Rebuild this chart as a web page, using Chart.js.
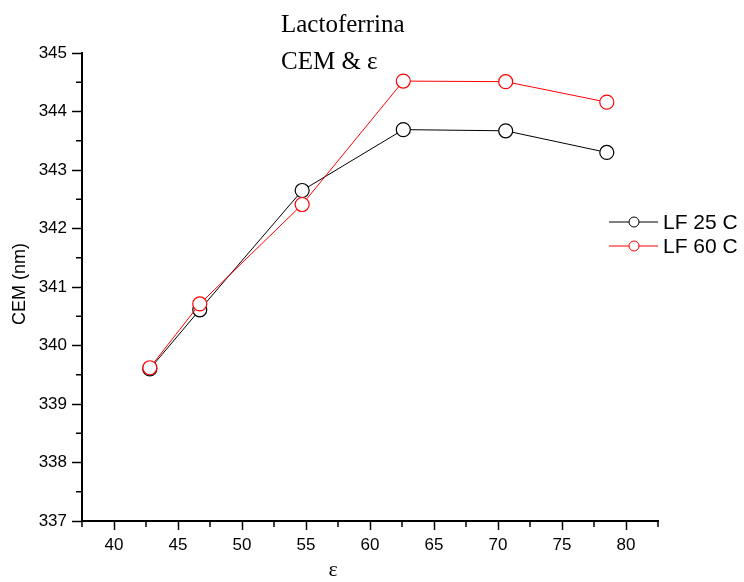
<!DOCTYPE html>
<html>
<head>
<meta charset="utf-8">
<script src="https://cdn.jsdelivr.net/npm/chart.js@4.4.1/dist/chart.umd.min.js"></script>
<style>
  html, body { margin: 0; padding: 0; background: #fff; }
  canvas { display: block; }
</style>
</head>
<body>
<canvas id="cemChart" width="744" height="582"></canvas>
<script>
// constante dielectrica del medio
const epsilon = [42.8, 46.7, 54.7, 62.6, 70.6, 78.5];
// CEM (nm) a 25 C y 60 C
const lf25 = [339.60, 340.61, 342.65, 343.69, 343.67, 343.30];
const lf60 = [339.62, 340.71, 342.41, 344.52, 344.51, 344.16];

const seriesNames = ["LF 25 C", "LF 60 C"];
const xTicks = [40, 45, 50, 55, 60, 65, 70, 75, 80];
const yTicks = [337, 338, 339, 340, 341, 342, 343, 344, 345];
const titleLines = ["Lactoferrina", "CEM & \u03b5"];

const toPoints = (ys) => epsilon.map((x, i) => ({ x: x, y: ys[i] }));

// textos, ticks menores y leyenda
const extras = {
  id: "extras",
  afterDraw(chart) {
    const ctx = chart.ctx;
    const area = chart.chartArea;
    const xs = chart.scales.x;
    const ys = chart.scales.y;
    ctx.save();
    ctx.strokeStyle = "#000";
    ctx.lineWidth = 1.5;

    // ticks menores
    for (let v = xs.min; v <= xs.max + 1e-9; v += 2.5) {
      if (Math.abs(v % 5) < 1e-9) continue;
      const px = xs.getPixelForValue(v);
      ctx.beginPath();
      ctx.moveTo(px, area.bottom);
      ctx.lineTo(px, area.bottom + 6);
      ctx.stroke();
    }
    for (let v = ys.min + 0.5; v < ys.max; v += 1) {
      const py = ys.getPixelForValue(v);
      ctx.beginPath();
      ctx.moveTo(area.left, py);
      ctx.lineTo(area.left - 6, py);
      ctx.stroke();
    }

    ctx.fillStyle = "#000";
    // titulo
    ctx.font = "25px 'Liberation Serif', 'Times New Roman', serif";
    ctx.textAlign = "left";
    ctx.textBaseline = "alphabetic";
    titleLines.forEach((t, i) => ctx.fillText(t, 281, 32 + i * 37));

    // titulo eje x
    ctx.textBaseline = "middle";
    ctx.font = "22px 'Liberation Serif', 'Times New Roman', serif";
    ctx.textAlign = "center";
    ctx.fillText("\u03b5", 333, 570);

    // titulo eje y
    ctx.font = "18px 'Liberation Sans', Arial, sans-serif";
    ctx.save();
    ctx.translate(20, 284);
    ctx.rotate(-Math.PI / 2);
    ctx.fillText("CEM (nm)", 0, 0);
    ctx.restore();

    // leyenda
    ctx.font = "21px 'Liberation Sans', Arial, sans-serif";
    ctx.textAlign = "left";
    chart.data.datasets.forEach((ds, i) => {
      const ly = 222 + i * 24;
      const lx = area.right - 49;
      ctx.strokeStyle = ds.borderColor;
      ctx.lineWidth = 1;
      ctx.beginPath();
      ctx.moveTo(lx, ly);
      ctx.lineTo(lx + 49, ly);
      ctx.stroke();
      ctx.beginPath();
      ctx.arc(lx + 25, ly, 5, 0, Math.PI * 2);
      ctx.fillStyle = "#fff";
      ctx.fill();
      ctx.stroke();
      ctx.fillStyle = "#000";
      ctx.fillText(ds.label, lx + 54, ly + 1);
    });
    ctx.restore();
  },
};

const axisFont = { family: "'Liberation Sans', Arial, sans-serif", size: 17 };

new Chart(document.getElementById("cemChart"), {
  type: "line",
  data: {
    datasets: [
      {
        label: seriesNames[0],
        data: toPoints(lf25),
        borderColor: "#000",
        borderWidth: 1,
        pointRadius: 7,
        pointBorderWidth: 1.2,
        pointBackgroundColor: "#fff",
        pointBorderColor: "#000",
        order: 1,
      },
      {
        label: seriesNames[1],
        data: toPoints(lf60),
        borderColor: "#ff0000",
        borderWidth: 1,
        pointRadius: 7,
        pointBorderWidth: 1.2,
        pointBackgroundColor: "#fff",
        pointBorderColor: "#ff0000",
        order: 0,
      },
    ],
  },
  options: {
    responsive: false,
    animation: false,
    devicePixelRatio: 1,
    layout: { padding: { top: 53, right: 86, left: 0, bottom: 0 } },
    plugins: { legend: { display: false }, tooltip: { enabled: false } },
    scales: {
      x: {
        type: "linear",
        min: 37.5,
        max: 82.5,
        afterBuildTicks: (s) => { s.ticks = xTicks.map((v) => ({ value: v })); },
        afterFit: (s) => { s.height = 61; },
        ticks: { color: "#000", font: axisFont, padding: 5, maxRotation: 0 },
        grid: { drawOnChartArea: false, tickLength: 9, tickColor: "#000", tickWidth: 1.5 },
        border: { color: "#000", width: 2 },
      },
      y: {
        min: 337,
        max: 345,
        afterBuildTicks: (s) => { s.ticks = yTicks.map((v) => ({ value: v })); },
        afterFit: (s) => { s.width = 82; },
        ticks: { color: "#000", font: axisFont, padding: 5 },
        grid: { drawOnChartArea: false, tickLength: 10, tickColor: "#000", tickWidth: 1.5 },
        border: { color: "#000", width: 2 },
      },
    },
  },
  plugins: [extras],
});
</script>
</body>
</html>
